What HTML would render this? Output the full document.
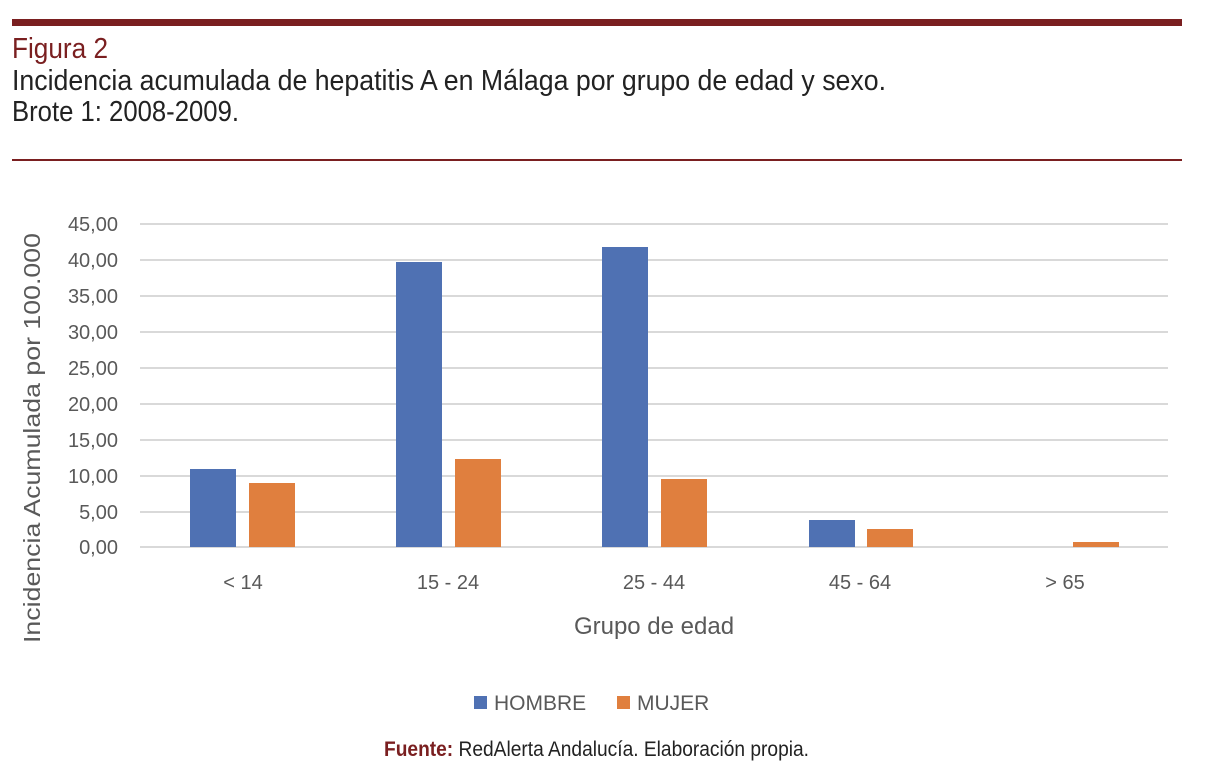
<!DOCTYPE html>
<html><head><meta charset="utf-8"><style>
html,body{margin:0;padding:0;background:#fff;}
svg{display:block;}
</style></head><body>
<svg width="1206" height="774" viewBox="0 0 1206 774" xmlns="http://www.w3.org/2000/svg">
<rect x="12" y="19" width="1170" height="7" fill="#7a1f20"/>
<rect x="12" y="159" width="1170" height="2" fill="#7a1f20"/>
<g font-family="'Liberation Sans Narrow','Liberation Sans',sans-serif" font-size="29">
<text x="12" y="58" fill="#7a1f20" textLength="96" lengthAdjust="spacingAndGlyphs">Figura 2</text>
<text x="12" y="90" fill="#222" textLength="874" lengthAdjust="spacingAndGlyphs">Incidencia acumulada de hepatitis A en Málaga por grupo de edad y sexo.</text>
<text x="12" y="121" fill="#222" textLength="227" lengthAdjust="spacingAndGlyphs">Brote 1: 2008-2009.</text>
</g>
<g stroke="#d9d9d9" stroke-width="2">
<line x1="140" x2="1168" y1="224" y2="224"/>
<line x1="140" x2="1168" y1="260" y2="260"/>
<line x1="140" x2="1168" y1="296" y2="296"/>
<line x1="140" x2="1168" y1="332" y2="332"/>
<line x1="140" x2="1168" y1="368" y2="368"/>
<line x1="140" x2="1168" y1="404" y2="404"/>
<line x1="140" x2="1168" y1="440" y2="440"/>
<line x1="140" x2="1168" y1="476" y2="476"/>
<line x1="140" x2="1168" y1="512" y2="512"/>
<line x1="140" x2="1168" y1="547" y2="547"/>
</g>
<g font-family="'Liberation Sans',sans-serif" font-size="20" fill="#595959" text-anchor="end">
<text x="118" y="231">45,00</text>
<text x="118" y="267">40,00</text>
<text x="118" y="303">35,00</text>
<text x="118" y="339">30,00</text>
<text x="118" y="375">25,00</text>
<text x="118" y="411">20,00</text>
<text x="118" y="447">15,00</text>
<text x="118" y="483">10,00</text>
<text x="118" y="519">5,00</text>
<text x="118" y="554">0,00</text>
</g>
<g fill="#4f71b3">
<rect x="190" y="469" width="46" height="78"/>
<rect x="396" y="262" width="46" height="285"/>
<rect x="602" y="247" width="46" height="300"/>
<rect x="809" y="520" width="46" height="27"/>
</g>
<g fill="#e07f3e">
<rect x="249" y="483" width="46" height="64"/>
<rect x="455" y="459" width="46" height="88"/>
<rect x="661" y="479" width="46" height="68"/>
<rect x="867" y="529" width="46" height="18"/>
<rect x="1073" y="542" width="46" height="5"/>
</g>
<g font-family="'Liberation Sans',sans-serif" font-size="20" fill="#595959" text-anchor="middle">
<text x="243" y="589">&lt; 14</text>
<text x="448" y="589">15 - 24</text>
<text x="654" y="589">25 - 44</text>
<text x="860" y="589">45 - 64</text>
<text x="1065" y="589">&gt; 65</text>
<text x="654" y="634" font-size="24">Grupo de edad</text>
</g>
<text transform="translate(40,643) rotate(-90)" font-family="'Liberation Sans',sans-serif" font-size="23" fill="#595959" textLength="410" lengthAdjust="spacingAndGlyphs">Incidencia Acumulada por 100.000</text>
<rect x="474" y="696" width="13" height="13" fill="#4f71b3"/>
<rect x="617" y="696" width="13" height="13" fill="#e07f3e"/>
<g font-family="'Liberation Sans',sans-serif" font-size="21" fill="#595959">
<text x="494" y="710">HOMBRE</text>
<text x="637" y="710">MUJER</text>
</g>
<text x="384" y="756" font-family="'Liberation Sans Narrow','Liberation Sans',sans-serif" font-size="21" fill="#222" textLength="425" lengthAdjust="spacingAndGlyphs"><tspan fill="#7a1f20" font-weight="bold">Fuente:</tspan> RedAlerta Andalucía. Elaboración propia.</text>
</svg>
</body></html>
